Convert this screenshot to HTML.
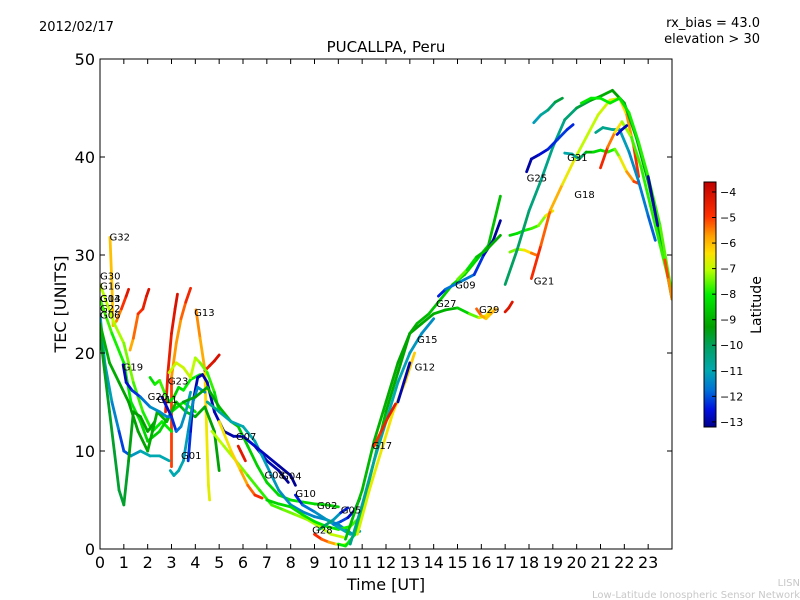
<!DOCTYPE html>
<html><head><meta charset="utf-8"><style>
body{margin:0;background:#fff}
svg{display:block;font-family:"DejaVu Sans","Liberation Sans",sans-serif}
</style></head><body>
<svg id="chart" width="800" height="600" viewBox="0 0 800 600">
<defs>
<linearGradient id="cbg" x1="0" y1="1" x2="0" y2="0">
<stop offset="0" stop-color="#00008c"/>
<stop offset="0.07" stop-color="#0010e0"/>
<stop offset="0.15" stop-color="#0070d8"/>
<stop offset="0.23" stop-color="#00a8b0"/>
<stop offset="0.33" stop-color="#00a060"/>
<stop offset="0.41" stop-color="#00a000"/>
<stop offset="0.54" stop-color="#00ee00"/>
<stop offset="0.64" stop-color="#b8ff00"/>
<stop offset="0.71" stop-color="#ffe000"/>
<stop offset="0.78" stop-color="#ffa000"/>
<stop offset="0.86" stop-color="#ff3000"/>
<stop offset="1" stop-color="#c00000"/>
</linearGradient>
<clipPath id="pc"><rect x="100" y="59" width="572" height="490"/></clipPath>
</defs>
<text x="39" y="31" font-size="13">2012/02/17</text>
<text x="760" y="27" font-size="13" text-anchor="end">rx_bias = 43.0</text>
<text x="760" y="43" font-size="13" text-anchor="end">elevation &gt; 30</text>
<text x="386" y="52" font-size="15" text-anchor="middle">PUCALLPA, Peru</text>
<g id="tracks" clip-path="url(#pc)"></g>
<g id="labels"></g>
<rect x="100" y="59" width="572" height="490" fill="none" stroke="#000" stroke-width="1"/>
<g id="axes"></g>
<text x="386" y="590" font-size="16" text-anchor="middle">Time [UT]</text>
<text transform="translate(66,304) rotate(-90)" font-size="16" text-anchor="middle">TEC [UNITS]</text>
<rect x="704" y="182" width="12" height="245" fill="url(#cbg)" stroke="#000" stroke-width="1"/>
<g id="cbticks"></g>
<text transform="translate(761,305) rotate(-90)" font-size="14" text-anchor="middle">Latitude</text>
<text x="800" y="586" font-size="10" fill="#c8c8c8" text-anchor="end">LISN</text>
<text x="800" y="598" font-size="10" fill="#c8c8c8" text-anchor="end">Low-Latitude Ionospheric Sensor Network</text>
</svg>
<script>
const xTicks=[0,1,2,3,4,5,6,7,8,9,10,11,12,13,14,15,16,17,18,19,20,21,22,23];
const yTicks=[0,10,20,30,40,50];
const cbTicks=[-4,-5,-6,-7,-8,-9,-10,-11,-12,-13];
const satNames=["G32","G30","G16","G14","G03","G22","G06","G19","G20","G11","G23","G13","G01","G07","G08","G04","G10","G02","G28","G05","G17","G12","G15","G27","G09","G29","G21","G25","G31","G18"];
const labelT=[0.4,0,0,0,0,0,0,0.95,2.0,2.4,2.85,3.95,3.4,5.7,6.9,7.6,8.2,9.1,8.9,10.1,11.4,13.2,13.3,14.1,14.9,15.9,18.2,17.9,19.6,19.9];
const labelV=[31.5,27.5,26.5,25.2,25.2,24.2,23.5,18.2,15.2,14.9,16.8,23.8,9.2,11.1,7.2,7.1,5.3,4.1,1.6,3.6,10.2,18.2,21.0,24.7,26.6,24.1,27.0,37.5,39.6,35.8];
const tracks=[
{name:"g32",t:[0.42,0.5,0.55,0.7,0.9,1.1,1.2],v:[31.8,27,22.8,23.3,24.5,25.8,26.5],lat:[-6,-6,-6,-5.8,-5.2,-4.5,-4]},
{name:"red-a",t:[1.26,1.4,1.6,1.8,1.95,2.05],v:[20.3,21.5,24,24.5,25.8,26.5],lat:[-6,-5.6,-5,-4.6,-4.3,-4]},
{name:"red-b",t:[3.0,3.0,3.2,3.4,3.6,3.8],v:[8.4,17.5,21,23.5,25.2,26.6],lat:[-4.5,-5.5,-5.8,-5.5,-5,-4.3]},
{name:"red-c",t:[2.75,2.85,3.0,3.15,3.25],v:[14,18,22,24.5,26],lat:[-4.5,-4.5,-4.3,-4.2,-4]},
{name:"g13",t:[4.03,4.2,4.4,4.45,4.5,4.55,4.6],v:[24.4,21.5,18.3,14,10,6.5,5],lat:[-5.5,-5.6,-6,-6.4,-6.5,-6.6,-6.6]},
{name:"red-d",t:[4.4,4.6,4.8,5.0],v:[18.2,18.7,19.2,19.8],lat:[-4.5,-4.3,-4.1,-4]},
{name:"m-yellow",t:[0,0.3,0.6,1,1.4,1.8,2.2,2.6,3],v:[27,25,23,21,17,14,12,13,12],lat:[-7,-7,-7,-7.2,-7.5,-7.8,-8,-8,-8]},
{name:"m-lime",t:[0,0.5,1,1.3,1.7,2.0,2.5,3,3.5,4],v:[25.5,22,19,15,13,11,12,14,15,14],lat:[-7.5,-7.8,-8,-8,-8.3,-8.5,-8.5,-8.3,-8,-8]},
{name:"m-cyan",t:[0,0.2,0.5,0.8,1.0,1.3,1.7,2.1,2.5,2.9],v:[24,19,15,12,10,9.5,10,9.5,9.5,9],lat:[-11,-11,-11.3,-11.8,-12.5,-11.5,-11,-11,-11,-11]},
{name:"m-green-dash",t:[0,0.2,0.4,0.6,0.8,1.0,1.2,1.4,1.7,2.0,2.3],v:[22,18,14,10,6,4.5,9,14,13.5,12,13],lat:[-9.5,-9.5,-9.6,-9.6,-9.7,-9.7,-9.5,-9.3,-9.3,-9.3,-9.3]},
{name:"m-green",t:[0,0.4,0.8,1.2,1.6,2.0,2.4,2.8,3.2,3.6,4.0,4.4,4.8,5.0],v:[23,19,17,15,12,10,14,13,15,14,13.5,14.5,12,8],lat:[-9,-9,-9.2,-9.3,-9.3,-9.2,-9,-9,-8.8,-8.8,-9,-9.2,-9.3,-9.4]},
{name:"g19",t:[0.97,1.1,1.34,1.7,2.1,2.5,2.8,3.0],v:[18.8,17,16.2,15.5,14.5,14,13.5,13.5],lat:[-13,-12.8,-12.5,-12,-11.5,-11.3,-11.5,-11.8]},
{name:"g20",t:[2.1,2.3,2.5,2.7,2.9,3.1,3.3,3.5,3.8,4.2],v:[17.5,16.8,17.2,16,15,15.5,16.5,16.2,17.3,17.8],lat:[-8.5,-8,-7.8,-7.5,-8,-8.5,-8.5,-8,-8,-8]},
{name:"g11",t:[2.6,2.8,3.0,3.2,3.4,3.6,3.8],v:[15.5,14.5,13.5,12,12.5,14,16],lat:[-12.5,-12.8,-12.6,-12,-11.5,-11.2,-11]},
{name:"g23",t:[2.9,3.2,3.5,3.8,4.0,4.2,4.5,4.8,5.0],v:[18,19,18.5,17.5,19.5,19,18,16,14],lat:[-7,-6.8,-6.8,-6.9,-7,-7.2,-7.5,-8,-8.5]},
{name:"g01",t:[3.7,3.8,3.9,4.1,4.3,4.5,4.8,5.2,5.6,6,6.5,7,7.5,7.9],v:[9,12,15,17.5,17.8,17,14,12,11.5,11.5,10.5,9,8,6.8],lat:[-12,-12.5,-12.8,-13,-13,-13,-12.8,-13,-13,-12.7,-12.5,-12.8,-13,-13.2]},
{name:"g01-cyan",t:[2.95,3.1,3.3,3.5,3.7,3.9,4.1,4.4],v:[8,7.5,8,9,12,15,16.5,16],lat:[-11,-11,-11,-11,-11.3,-11.5,-11.5,-11.3]},
{name:"mid-green",t:[3.5,4,4.5,5,5.5,5.8,6.2,6.6,7,7.5,8,8.5,9,9.5,10],v:[15,15.5,16.5,14.5,13,12.5,10.5,8.5,6.8,5.5,5,4.8,4.6,4.5,4.3],lat:[-9.5,-9.4,-9.2,-9,-8.8,-8.7,-8.5,-8.5,-8.5,-8.3,-8.2,-8.2,-8.3,-8.4,-8.5]},
{name:"mid-cyan",t:[4.5,5,5.5,6,6.5,7,7.5,8,8.5,9,9.5,10,10.3,10.6,10.9],v:[15,14,13,12.5,11,8.5,6,4.5,3.8,3.3,3,2.5,2,1.5,1.8],lat:[-10.5,-10.8,-11,-11,-11,-11.2,-11.3,-11.5,-11.5,-11.5,-11.5,-11.5,-11.5,-11.2,-11]},
{name:"mid-blue",t:[6,6.5,7,7.5,8,8.2],v:[11.5,10.5,9.5,8.5,7.5,6.5],lat:[-12.5,-12.7,-12.8,-13,-13.1,-13.2]},
{name:"mid-lime",t:[4.7,5.2,5.7,6.2,6.7,7.2,7.7,8.2,8.7,9.2,9.7,10.2],v:[12,10.5,9,7.5,6,4.5,4,3.5,3,2.3,1.5,1.2],lat:[-7,-7,-7.2,-7.5,-7.8,-7.8,-7.5,-7.3,-7.2,-7,-7,-6.8]},
{name:"mid-orange",t:[5,5.5,5.9,6.2,6.5,6.8],v:[13,10,8,6.5,5.5,5.2],lat:[-6.5,-6.3,-6,-5.5,-5,-4.5]},
{name:"g07-red",t:[5.8,5.9,6.0,6.1],v:[10.5,10,9.5,9],lat:[-4.3,-4.3,-4.3,-4.3]},
{name:"low-green",t:[7,7.5,8,8.5,9,9.5,10,10.5,10.8],v:[5,4.6,4.3,3.5,2.8,2.3,2,2.3,3],lat:[-8.5,-8.4,-8.3,-8.3,-8.2,-8.1,-8,-7.8,-7.5]},
{name:"g10",t:[8.2,8.5,9,9.5,10,10.5],v:[5.5,4.5,3.8,3,2.2,1.5],lat:[-12.8,-12,-11.5,-11.2,-11,-11]},
{name:"g02",t:[9.2,9.5,9.8,10.1,10.4],v:[2,2.5,3,3.7,4.2],lat:[-9.8,-10,-10.5,-12,-12.8]},
{name:"g05",t:[9.8,10.1,10.4,10.7,10.9],v:[2.5,2.8,3.2,4,5.2],lat:[-11.5,-11.8,-12.5,-13,-13.2]},
{name:"g28",t:[9.0,9.3,9.6,9.9,10.2,10.5],v:[1.5,1,0.7,0.5,0.4,0.6],lat:[-4.5,-5,-5.5,-6,-6.5,-7]},
{name:"rise-green",t:[10,10.3,10.7,11,11.5,12,12.5,13,13.5,14,14.5,15,15.5,15.9,16.2,16.4],v:[0.5,0.3,1.5,4,9,14,18,22,23,24,24.4,24.6,24,23.6,23.8,24.5],lat:[-8,-8,-8.2,-8.5,-8.8,-9,-9.2,-9.3,-9.3,-9,-9,-9,-8,-7,-6.5,-6]},
{name:"rise-steep",t:[10.3,11,11.5,12,12.5,13,13.3,13.8,14.3,14.8,15.3,15.8,16.3,16.8],v:[1,6,11,15,19,22,23,24,25.5,27,28,29.5,31,36],lat:[-8.8,-8.8,-9,-9,-9.2,-9.2,-9,-8.8,-8.6,-8.5,-8.5,-8.4,-8.6,-9]},
{name:"rise-cyan",t:[10.5,11,11.5,12,12.5,13,13.5,14],v:[0.5,4.5,9,13,17,20,22,23.5],lat:[-10.5,-10.6,-10.8,-11,-11,-11.2,-11.3,-11.5]},
{name:"rise-yellow",t:[10.8,11.3,11.8,12.3,12.8,13.2],v:[1.5,6,10,14,17,20],lat:[-6.8,-6.6,-6.5,-6.3,-6.2,-6]},
{name:"g17",t:[11.5,11.8,12.1,12.4],v:[10.5,12,13.5,14.8],lat:[-5,-4.7,-4.4,-4.2]},
{name:"g12-blue",t:[12.5,12.75,13.0],v:[15,17,19],lat:[-12.8,-13,-13]},
{name:"g27",t:[14.2,14.5,14.9,15.3,15.7,16.1,16.5,16.8],v:[25.8,26.5,27,27.5,28,30,31.5,33.5],lat:[-12.8,-12,-11.5,-11.5,-12,-12.5,-13,-13.2]},
{name:"g09",t:[15.0,15.4,15.8,16.2,16.6,16.8],v:[27.5,28.5,29.8,30.5,31.5,32],lat:[-7,-8,-8.5,-9,-9.2,-9]},
{name:"g29",t:[15.8,16.0,16.2,16.4,16.6],v:[24.5,23.8,23.5,24,24.5],lat:[-5,-5.5,-6,-6.2,-5.5]},
{name:"red-e",t:[17.0,17.15,17.3],v:[24.2,24.6,25.2],lat:[-4.2,-4.2,-4.2]},
{name:"green-wiggle",t:[17.2,17.5,17.8,18.1,18.4,18.7,19.0],v:[32,32.2,32.5,32.7,33,34,34.5],lat:[-8.5,-8.2,-8,-7.8,-7.5,-7,-6]},
{name:"lime-wiggle",t:[17.2,17.5,17.8,18.1,18.3],v:[30.3,30.6,30.5,30.2,30],lat:[-7.5,-7.2,-6.8,-5.8,-5]},
{name:"g21-yellow",t:[18.1,18.5,18.9,19.4,19.9,20.4,20.9,21.4,21.8,22.1,22.4,22.6],v:[27.6,31,34.6,37.2,39.7,42,44.3,45.8,46,44.3,41,38],lat:[-4.5,-5,-5.5,-6.2,-6.8,-7,-6.8,-6.8,-6.5,-6,-5.2,-4.5]},
{name:"teal-arc",t:[17,17.5,18,18.5,19,19.5,20,20.6,21,21.5,22,22.5,23,23.5,24],v:[27,30.5,34.5,37.6,41,43.8,45,45.8,46.2,46.8,45.5,42,37.5,32,25.5],lat:[-10,-10,-10.2,-10.5,-10.5,-10.5,-10,-9.5,-9,-9.2,-9.4,-9.5,-9.4,-9.3,-9.5]},
{name:"green-top",t:[20.2,20.6,21,21.4,21.8,22.2,22.6,23,23.5,24],v:[45.5,46,46,45.5,46,44.5,41.5,38,33,26],lat:[-8.2,-8,-8,-8,-8.2,-8,-7.8,-7.8,-7.6,-7.5]},
{name:"g25-teal",t:[18.2,18.5,18.8,19.1,19.4],v:[43.5,44.3,44.8,45.6,46],lat:[-11.3,-11,-10.5,-10,-9.5]},
{name:"g25-blue",t:[17.9,18.1,18.4,18.8,19.2,19.6,19.85],v:[38.5,39.8,40.2,40.8,41.8,42.8,43.3],lat:[-13,-13,-12.8,-12.5,-12.2,-12.2,-12.5]},
{name:"g31",t:[19.5,19.8,20.1,20.4,20.7,21,21.3,21.6,21.8,22.1,22.4,22.6],v:[40.4,40.3,39.8,40.5,40.5,40.7,40.5,40.8,40,38.5,37.5,37.3],lat:[-11,-10.8,-10.5,-9.5,-8.5,-8.2,-8,-7.8,-7,-6,-5.3,-4.7]},
{name:"teal-g18",t:[20.8,21.1,21.5,21.8,22.2,22.6,23,23.3],v:[42.5,43,42.8,42.8,40.5,37.5,34,31.5],lat:[-10.5,-10.5,-10.6,-11,-11.3,-11.5,-11.8,-12]},
{name:"g18-red",t:[21,21.3,21.6,21.9,22.3,22.7,23.1,23.5,24],v:[38.9,41,42.5,43.6,42,39,35,31,26],lat:[-4.3,-5,-5.8,-6.8,-7.5,-7.8,-7.8,-7.8,-7.6]},
{name:"late-blue",t:[21.7,21.9,22.1],v:[42.3,42.8,43.2],lat:[-12.5,-12.7,-13]},
{name:"late-blue2",t:[23.0,23.2,23.4],v:[38,35.5,33],lat:[-13,-13,-12.8]},
{name:"late-red",t:[23.7,23.85,24],v:[29.5,27.5,25.5],lat:[-4.8,-5.3,-5.8]}
];
const X0=100,X1=672,Y0=549,Y1=59;
function sx(t){return X0+(t/24)*(X1-X0);}
function sy(v){return Y0-(v/50)*(Y0-Y1);}
function cbY(l){return 182+(-3.61-l)/9.59*245;}
const stops=[[-13.2,[0,0,140]],[-12.5,[0,16,224]],[-11.8,[0,112,216]],[-11,[0,168,176]],[-10,[0,160,96]],[-9.3,[0,160,0]],[-8,[0,238,0]],[-7,[184,255,0]],[-6.3,[255,224,0]],[-5.7,[255,160,0]],[-4.9,[255,48,0]],[-3.6,[192,0,0]]];
function cmap(l){
  if(l<=stops[0][0])return'rgb('+stops[0][1]+')';
  for(let i=1;i<stops.length;i++){if(l<=stops[i][0]){const a=stops[i-1],b=stops[i],f=(l-a[0])/(b[0]-a[0]);
    return'rgb('+a[1].map((c,k)=>Math.round(c+(b[1][k]-c)*f)).join(',')+')';}}
  return'rgb('+stops[stops.length-1][1]+')';
}
const NS='http://www.w3.org/2000/svg';
const gT=document.getElementById('tracks');
tracks.forEach(tr=>{
  const g=document.createElementNS(NS,'g');
  
  
  for(let i=0;i<tr.t.length-1;i++){
    const ln=document.createElementNS(NS,'line');
    ln.setAttribute('x1',sx(tr.t[i]));ln.setAttribute('y1',sy(tr.v[i]));
    ln.setAttribute('x2',sx(tr.t[i+1]));ln.setAttribute('y2',sy(tr.v[i+1]));
    ln.setAttribute('stroke',cmap((tr.lat[i]+tr.lat[i+1])/2));
    ln.setAttribute('stroke-width','2.8');ln.setAttribute('stroke-linecap','round');
    
    
    g.appendChild(ln);
  }
  gT.appendChild(g);
});
const gL=document.getElementById('labels');
satNames.forEach((n,i)=>{
  const tx=document.createElementNS(NS,'text');
  tx.setAttribute('x',sx(labelT[i]));tx.setAttribute('y',sy(labelV[i]));
  tx.setAttribute('font-size','10');tx.textContent=n;
  
  
  gL.appendChild(tx);
});
const gA=document.getElementById('axes');
function mk(tag,attrs,txt){const e=document.createElementNS(NS,tag);for(const k in attrs)e.setAttribute(k,attrs[k]);if(txt!==undefined)e.textContent=txt;gA.appendChild(e);return e;}
xTicks.forEach(t=>{
  const x=sx(t);
  const a=mk('line',{x1:x,y1:Y0,x2:x,y2:Y0-5,stroke:'#000'});
  
  
  const b=mk('line',{x1:x,y1:Y1,x2:x,y2:Y1+5,stroke:'#000'});
  
  
  const l=mk('text',{x:x,y:568,'font-size':'16','text-anchor':'middle'},String(t));
  
  
});
yTicks.forEach(v=>{
  const y=sy(v);
  const a=mk('line',{x1:X0,y1:y,x2:X0+5,y2:y,stroke:'#000'});
  
  
  const b=mk('line',{x1:X1,y1:y,x2:X1-5,y2:y,stroke:'#000'});
  
  
  const l=mk('text',{x:95,y:y+6,'font-size':'16','text-anchor':'end'},String(v));
  
  
});
const gC=document.getElementById('cbticks');
cbTicks.forEach(c=>{
  const y=cbY(c);
  const a=document.createElementNS(NS,'line');
  a.setAttribute('x1',712);a.setAttribute('x2',716);a.setAttribute('y1',y);a.setAttribute('y2',y);a.setAttribute('stroke','#000');
  
  
  gC.appendChild(a);
  const t=document.createElementNS(NS,'text');
  t.setAttribute('x',720);t.setAttribute('y',y+4);t.setAttribute('font-size','11');t.textContent='\u2212'+Math.abs(c);
  
  
  gC.appendChild(t);
});
</script>
</body></html>
